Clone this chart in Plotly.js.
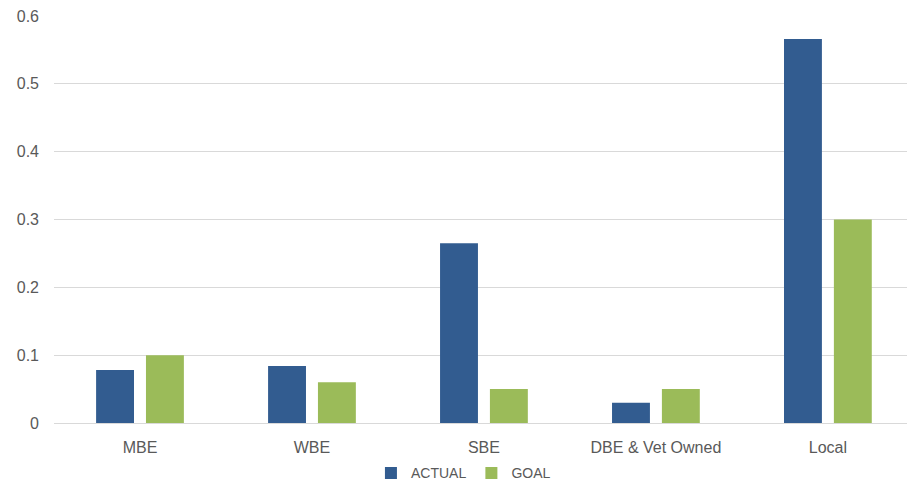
<!DOCTYPE html>
<html><head><meta charset="utf-8">
<script src="https://cdn.plot.ly/plotly-3.0.1.min.js"></script>
<style>body{margin:0;background:#fff}#c{width:907px;height:482px}</style>
</head><body><div id="c"></div>
<script>
const categories = ["MBE", "WBE", "SBE", "DBE & Vet Owned", "Local"];
const actual = [0.078, 0.084, 0.265, 0.030, 0.566];
const goal = [0.100, 0.060, 0.050, 0.050, 0.300];
const yTicks = [0, 0.1, 0.2, 0.3, 0.4, 0.5, 0.6];

const data = [
  {type: "bar", name: "ACTUAL", x: categories, y: actual, marker: {color: "#325C90"}},
  {type: "bar", name: "GOAL", x: categories, y: goal, marker: {color: "#9BBB59"}}
];
const layout = {
  width: 907, height: 482,
  margin: {l: 54, r: 0, t: 16, b: 59},
  paper_bgcolor: "#fff", plot_bgcolor: "#fff",
  font: {family: "Liberation Sans, Arial, sans-serif", color: "#595959", size: 16},
  barmode: "group", bargap: 0.42, bargroupgap: 0.24,
  showlegend: true,
  legend: {orientation: "h", x: 0.48, xanchor: "center", yref: "container", y: 0.018, yanchor: "middle",
           font: {size: 14, color: "#595959"}, itemwidth: 30, traceorder: "normal"},
  xaxis: {range: [-0.5, 4.46], showgrid: false, showline: true, linecolor: "#d9d9d9",
          ticks: "", tickfont: {size: 16, color: "#595959"}, ticklabelstandoff: 10,
          automargin: false, fixedrange: true},
  yaxis: {range: [0, 0.6], tickvals: yTicks, showgrid: true, gridcolor: "#d9d9d9",
          zeroline: false, ticks: "", ticklen: 0, tickfont: {size: 16, color: "#595959"},
          ticklabelstandoff: 14, automargin: false}
};
Plotly.newPlot("c", data, layout, {displayModeBar: false, staticPlot: true});
</script></body></html>
